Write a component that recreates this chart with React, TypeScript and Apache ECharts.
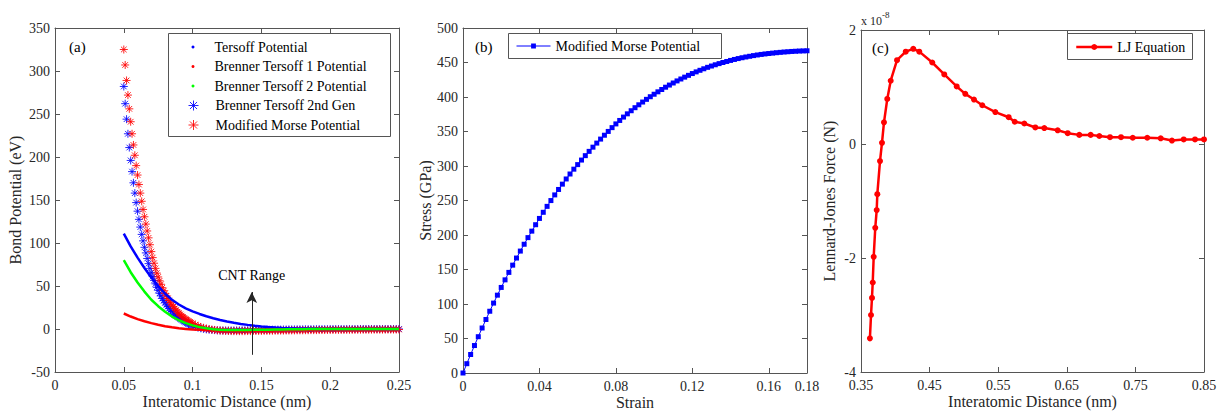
import React, { useEffect, useRef } from "react";
import * as echarts from "echarts";

// ---------- Panel (a): bond potential ----------
const lineX = [0.05, 0.055, 0.06, 0.065, 0.07, 0.075, 0.08, 0.085, 0.09, 0.095, 0.1, 0.105, 0.11, 0.115, 0.12, 0.125, 0.13, 0.135, 0.14, 0.145, 0.15, 0.155, 0.16, 0.165, 0.17, 0.175, 0.18, 0.185, 0.19, 0.195, 0.2, 0.205, 0.21, 0.215, 0.22, 0.225, 0.23, 0.235, 0.24, 0.245, 0.25];
const tersoffY = [111, 96, 83, 71, 60, 50, 41, 34, 28.5, 24, 20.5, 17.5, 14.8, 12.5, 10.5, 8.7, 7.2, 5.9, 4.8, 3.8, 3.0, 2.3, 1.7, 1.2, 0.8, 0.5, 0.3, 0.2, 0.1, 0, 0, 0, 0, 0, 0, 0, 0, 0, 0, 0, 0];
const brenner1Y = [18, 14.5, 11.5, 9, 6.8, 4.9, 3.3, 2.0, 0.9, 0.1, -0.5, -0.9, -1.2, -1.4, -1.5, -1.5, -1.5, -1.4, -1.3, -1.2, -1.1, -1.0, -0.8, -0.7, -0.6, -0.5, -0.4, -0.3, -0.2, -0.1, 0, 0, 0, 0, 0, 0, 0, 0, 0, 0, 0];
const brenner2Y = [80, 66, 54, 43.5, 34, 26.5, 20, 14.5, 10.2, 6.8, 4.2, 2.2, 0.8, -0.2, -0.8, -1.1, -1.2, -1.2, -1.1, -1.0, -0.9, -0.8, -0.6, -0.5, -0.4, -0.3, -0.2, -0.1, -0.1, 0, 0, 0, 0, 0, 0, 0, 0, 0, 0, 0, 0];

const starX = [
  0.05, 0.051, 0.052, 0.053, 0.054, 0.055, 0.056, 0.057, 0.058, 0.059,
  0.06, 0.061, 0.062, 0.063, 0.064, 0.065, 0.066, 0.067, 0.068, 0.069,
  0.07, 0.071, 0.072, 0.073, 0.074, 0.075, 0.076, 0.077, 0.078, 0.079,
  0.08, 0.081, 0.082, 0.083, 0.084, 0.085, 0.086, 0.087, 0.088, 0.089,
  0.09, 0.091, 0.092, 0.093, 0.094, 0.095, 0.096, 0.097, 0.098, 0.099, 0.1,
  0.102, 0.104, 0.106, 0.108, 0.11, 0.112, 0.114, 0.116, 0.118, 0.12,
  0.122, 0.124, 0.126, 0.128, 0.13, 0.132, 0.134, 0.136, 0.138, 0.14,
  0.142, 0.144, 0.146, 0.148, 0.15, 0.152, 0.154, 0.156, 0.158, 0.16,
  0.162, 0.164, 0.166, 0.168, 0.17, 0.172, 0.174, 0.176, 0.178, 0.18,
  0.182, 0.184, 0.186, 0.188, 0.19, 0.192, 0.194, 0.196, 0.198, 0.2,
  0.202, 0.204, 0.206, 0.208, 0.21, 0.212, 0.214, 0.216, 0.218, 0.22,
  0.222, 0.224, 0.226, 0.228, 0.23, 0.232, 0.234, 0.236, 0.238, 0.24,
  0.242, 0.244, 0.246, 0.248, 0.25,
];
const gen2Y = [
  282, 262, 244, 227, 211, 196, 183, 170, 158, 147,
  137, 127.5, 118.5, 110, 102.5, 95, 88.5, 82, 76, 70.5,
  65.5, 61, 56.5, 52.5, 48.5, 45, 41.5, 38.5, 35.5, 33,
  30.5, 28, 26, 24, 22, 20.3, 18.6, 17, 15.6, 14.2,
  13, 11.8, 10.7, 9.6, 8.6, 7.6, 6.7, 5.9, 5.1, 4.4, 3.7,
  2.6, 1.6, 0.8, 0.1, -0.4, -0.8, -1.1, -1.3, -1.5, -1.6,
  -1.7, -1.7, -1.7, -1.7, -1.7, -1.6, -1.6, -1.5, -1.5, -1.4,
  -1.3, -1.3, -1.2, -1.1, -1.1, -1.0, -0.9, -0.9, -0.8, -0.8,
  -0.7, -0.7, -0.6, -0.6, -0.5, -0.5, -0.5, -0.4, -0.4, -0.4,
  -0.3, -0.3, -0.3, -0.3, -0.2, -0.2, -0.2, -0.2, -0.2, -0.1,
  -0.1, -0.1, -0.1, -0.1, -0.1, -0.1, -0.1, -0.1, -0.1, -0.1,
  0, 0, 0, 0, 0, 0, 0, 0, 0, 0,
  0, 0, 0, 0, 0,
];
const morseY = [
  325, 307, 289, 272, 256, 241, 227, 214, 202, 190,
  179, 168, 158, 148.5, 139, 130.5, 122, 114, 106, 98,
  90, 83, 76.5, 70.5, 65, 60.5, 56, 52, 48, 44.5,
  41.5, 38.5, 35.5, 33, 30.5, 28, 26, 24, 22, 20,
  18.5, 17, 15.5, 14, 12.8, 11.5, 10.4, 9.3, 8.3, 7.3, 6.4,
  5.0, 3.6, 2.4, 1.4, 0.6, -0.1, -0.7, -1.1, -1.5, -1.8,
  -2.0, -2.2, -2.3, -2.4, -2.5, -2.5, -2.5, -2.5, -2.5, -2.4,
  -2.4, -2.3, -2.3, -2.2, -2.2, -2.1, -2.1, -2.0, -2.0, -1.9,
  -1.9, -1.8, -1.8, -1.7, -1.7, -1.6, -1.6, -1.5, -1.5, -1.5,
  -1.4, -1.4, -1.3, -1.3, -1.3, -1.2, -1.2, -1.2, -1.1, -1.1,
  -1.1, -1.0, -1.0, -1.0, -1.0, -0.9, -0.9, -0.9, -0.9, -0.8,
  -0.8, -0.8, -0.8, -0.8, -0.7, -0.7, -0.7, -0.7, -0.7, -0.7,
  -0.6, -0.6, -0.6, -0.6, -0.6,
];
const cntRange = { x: 0.143, from: -30, to: 43 };

// ---------- Panel (b): stress-strain ----------
const strainX = [
  0, 0.002, 0.004, 0.006, 0.008, 0.01, 0.012, 0.014, 0.016, 0.018,
  0.02, 0.022, 0.024, 0.026, 0.028, 0.03, 0.032, 0.034, 0.036, 0.038,
  0.04, 0.042, 0.044, 0.046, 0.048, 0.05, 0.052, 0.054, 0.056, 0.058,
  0.06, 0.062, 0.064, 0.066, 0.068, 0.07, 0.072, 0.074, 0.076, 0.078,
  0.08, 0.082, 0.084, 0.086, 0.088, 0.09, 0.092, 0.094, 0.096, 0.098,
  0.1, 0.102, 0.104, 0.106, 0.108, 0.11, 0.112, 0.114, 0.116, 0.118,
  0.12, 0.122, 0.124, 0.126, 0.128, 0.13, 0.132, 0.134, 0.136, 0.138,
  0.14, 0.142, 0.144, 0.146, 0.148, 0.15, 0.152, 0.154, 0.156, 0.158,
  0.16, 0.162, 0.164, 0.166, 0.168, 0.17, 0.172, 0.174, 0.176, 0.178, 0.18,
];
const stressY = [
  0, 13.5, 26.8, 39.8, 52.6, 65.2, 77.5, 89.5, 101.3, 112.8,
  124.0, 135.0, 145.8, 156.3, 166.6, 176.7, 186.6, 196.2, 205.6, 214.9,
  224.0, 232.9, 241.5, 249.9, 258.1, 266.0, 273.7, 281.2, 288.4, 295.4,
  302.0, 308.6, 315.0, 321.2, 327.3, 333.2, 339.0, 344.6, 350.1, 355.6,
  361.0, 366.0, 370.9, 375.6, 380.1, 384.5, 388.7, 392.7, 396.6, 400.4,
  404.0, 407.5, 410.9, 414.2, 417.3, 420.3, 423.3, 426.1, 428.8, 431.4,
  434.0, 436.4, 438.7, 440.9, 443.0, 444.9, 446.7, 448.4, 450.0, 451.5,
  453.0, 454.4, 455.7, 456.9, 458.0, 459.0, 460.0, 460.9, 461.7, 462.4,
  463.0, 463.6, 464.2, 464.7, 465.2, 465.6, 466.0, 466.3, 466.6, 466.8, 467.0,
];

// ---------- Panel (c): Lennard-Jones force (units of 1e-8 N) ----------
const ljX = [0.363, 0.3646, 0.366, 0.3671, 0.3685, 0.3708, 0.3729, 0.3738, 0.3777, 0.3806, 0.3835, 0.3883, 0.3933, 0.4025, 0.4152, 0.4262, 0.435, 0.4539, 0.4714, 0.4895, 0.502, 0.5147, 0.5268, 0.5458, 0.5653, 0.5741, 0.5881, 0.6041, 0.6172, 0.6367, 0.6513, 0.6682, 0.6848, 0.6974, 0.713, 0.729, 0.7461, 0.7673, 0.7869, 0.8033, 0.8204, 0.8369, 0.85];
const ljY = [-3.41, -3.0, -2.7, -2.43, -1.98, -1.47, -1.16, -0.88, -0.3, 0.02, 0.38, 0.79, 1.11, 1.47, 1.62, 1.67, 1.62, 1.43, 1.22, 1.01, 0.88, 0.78, 0.68, 0.56, 0.47, 0.39, 0.36, 0.29, 0.28, 0.24, 0.19, 0.16, 0.16, 0.14, 0.12, 0.12, 0.11, 0.11, 0.1, 0.06, 0.08, 0.08, 0.08];

const FONT = "'Liberation Serif', 'Times New Roman', serif";
const AXIS_COLOR = "#555555";
const TEXT_COLOR = "#262626";
const BLUE = "#0000ff";
const RED = "#ff0000";
const GREEN = "#00ff00";
const STAR = "path://M0,-10L0,10M-10,0L10,0M-7.07,-7.07L7.07,7.07M-7.07,7.07L7.07,-7.07";

const zip = (xs: number[], ys: number[]) => xs.map((x, i) => [x, ys[i]]);

function xAxisPair(gridIndex: number, min: number, max: number, interval: number, name: string) {
  const common = {
    type: "value",
    gridIndex,
    min,
    max,
    interval,
    axisLine: { show: true, onZero: false, lineStyle: { color: AXIS_COLOR, width: 1 } },
    axisTick: { show: true, inside: true, length: 5, lineStyle: { color: AXIS_COLOR } },
    splitLine: { show: false },
  };
  return [
    {
      ...common,
      position: "bottom",
      name,
      nameLocation: "middle",
      nameGap: 21,
      nameMoveOverlap: false,
      nameTextStyle: { fontFamily: FONT, fontSize: 16, color: TEXT_COLOR },
      axisLabel: { show: true, margin: 6, fontFamily: FONT, fontSize: 14, color: TEXT_COLOR },
    },
    { ...common, position: "top", axisLabel: { show: false } },
  ];
}

function yAxisPair(gridIndex: number, min: number, max: number, interval: number, name: string, nameGap: number) {
  const common = {
    type: "value",
    gridIndex,
    min,
    max,
    interval,
    axisLine: { show: true, onZero: false, lineStyle: { color: AXIS_COLOR, width: 1 } },
    axisTick: { show: true, inside: true, length: 5, lineStyle: { color: AXIS_COLOR } },
    splitLine: { show: false },
  };
  return [
    {
      ...common,
      position: "left",
      name,
      nameLocation: "middle",
      nameGap,
      nameMoveOverlap: false,
      nameTextStyle: { fontFamily: FONT, fontSize: 16, color: TEXT_COLOR },
      axisLabel: { show: true, margin: 5, fontFamily: FONT, fontSize: 14, color: TEXT_COLOR },
    },
    { ...common, position: "right", axisLabel: { show: false } },
  ];
}

const legendText = { fontFamily: FONT, fontSize: 14, color: "#000", lineHeight: 16 };

export default function App() {
  const ref = useRef<HTMLDivElement>(null);

  useEffect(() => {
    document.body.style.margin = "0";
    const chart = echarts.init(ref.current!, undefined, { renderer: "svg" });
    const option: any = {
      animation: false,
      backgroundColor: "#ffffff",
      grid: [
        { left: 55, top: 28, width: 344, height: 344, outerBoundsMode: "none" },
        { left: 463, top: 28, width: 344, height: 345, outerBoundsMode: "none" },
        { left: 861, top: 30, width: 343, height: 342, outerBoundsMode: "none" },
      ],
      xAxis: [
        ...xAxisPair(0, 0, 0.25, 0.05, "Interatomic Distance (nm)"),
        ...xAxisPair(1, 0, 0.18, 0.04, "Strain"),
        ...xAxisPair(2, 0.35, 0.85, 0.1, "Interatomic Distance (nm)"),
      ],
      yAxis: [
        ...yAxisPair(0, -50, 350, 50, "Bond Potential (eV)", 32),
        ...yAxisPair(1, 0, 500, 50, "Stress (GPa)", 30),
        ...yAxisPair(2, -4, 2, 2, "Lennard-Jones Force (N)", 24),
      ],
      legend: [
        {
          orient: "vertical",
          left: 191.5,
          top: 39,
          padding: 0,
          itemGap: 3.5,
          itemWidth: 3,
          itemHeight: 3,
          icon: "circle",
          selectedMode: false,
          textStyle: { ...legendText, padding: [0, 0, 0, 15] },
          data: [
            { name: "Tersoff Potential", itemStyle: { color: BLUE, borderWidth: 0 } },
            { name: "Brenner Tersoff 1 Potential", itemStyle: { color: RED, borderWidth: 0 } },
            { name: "Brenner Tersoff 2 Potential", itemStyle: { color: GREEN, borderWidth: 0 } },
          ],
          z: 6,
        },
        {
          orient: "vertical",
          left: 188,
          top: 97.5,
          padding: 0,
          itemGap: 3.5,
          itemWidth: 10,
          itemHeight: 10,
          selectedMode: false,
          textStyle: { ...legendText, padding: [0, 0, 0, 12] },
          data: [
            { name: "Brenner Tersoff 2nd Gen", icon: STAR, itemStyle: { color: BLUE, borderColor: BLUE, borderWidth: 1 } },
            { name: "Modified Morse Potential", icon: STAR, itemStyle: { color: RED, borderColor: RED, borderWidth: 1 } },
          ],
          z: 6,
        },
        {
          left: 516,
          top: 38,
          padding: 0,
          itemWidth: 34,
          itemHeight: 6,
          selectedMode: false,
          textStyle: legendText,
          lineStyle: { width: 1 },
          formatter: () => "Modified Morse Potential",
          data: ["Modified Morse Potential (b)"],
          z: 6,
        },
        {
          left: 1075,
          top: 39,
          padding: 0,
          itemWidth: 36,
          itemHeight: 7.5,
          selectedMode: false,
          textStyle: legendText,
          lineStyle: { width: 2.5 },
          data: ["LJ Equation"],
          z: 6,
        },
      ],
      graphic: [
        { type: "rect", z: 3, shape: { x: 168.5, y: 33.5, width: 222, height: 103 }, style: { fill: "#fff", stroke: AXIS_COLOR, lineWidth: 1 } },
        { type: "rect", z: 3, shape: { x: 508.5, y: 33.5, width: 213, height: 25 }, style: { fill: "#fff", stroke: AXIS_COLOR, lineWidth: 1 } },
        { type: "rect", z: 3, shape: { x: 1067.5, y: 33.5, width: 125, height: 26 }, style: { fill: "#fff", stroke: AXIS_COLOR, lineWidth: 1 } },
        { type: "text", z: 7, x: 69, y: 47, style: { text: "(a)", fontFamily: FONT, fontSize: 15, fill: "#000", verticalAlign: "middle" } },
        { type: "text", z: 7, x: 475, y: 47, style: { text: "(b)", fontFamily: FONT, fontSize: 15, fill: "#000", verticalAlign: "middle" } },
        { type: "text", z: 7, x: 872, y: 48, style: { text: "(c)", fontFamily: FONT, fontSize: 15, fill: "#000", verticalAlign: "middle" } },
        { type: "text", z: 7, x: 861, y: 21, style: { text: "x 10", fontFamily: FONT, fontSize: 12, fill: TEXT_COLOR, verticalAlign: "middle" } },
        { type: "text", z: 7, x: 882, y: 15, style: { text: "-8", fontFamily: FONT, fontSize: 9, fill: TEXT_COLOR, verticalAlign: "middle" } },
      ],
      series: [
        {
          name: "Tersoff Potential",
          type: "line",
          xAxisIndex: 0,
          yAxisIndex: 0,
          data: zip(lineX, tersoffY),
          showSymbol: false,
          symbol: "circle",
          lineStyle: { color: BLUE, width: 2.5 },
          itemStyle: { color: BLUE },
        },
        {
          name: "Brenner Tersoff 1 Potential",
          type: "line",
          xAxisIndex: 0,
          yAxisIndex: 0,
          data: zip(lineX, brenner1Y),
          showSymbol: false,
          symbol: "circle",
          lineStyle: { color: RED, width: 2.5 },
          itemStyle: { color: RED },
        },
        {
          name: "Brenner Tersoff 2 Potential",
          type: "line",
          xAxisIndex: 0,
          yAxisIndex: 0,
          data: zip(lineX, brenner2Y),
          showSymbol: false,
          symbol: "circle",
          lineStyle: { color: GREEN, width: 2.5 },
          itemStyle: { color: GREEN },
        },
        {
          name: "Brenner Tersoff 2nd Gen",
          type: "scatter",
          xAxisIndex: 0,
          yAxisIndex: 0,
          data: zip(starX, gen2Y),
          symbol: STAR,
          symbolSize: 8,
          itemStyle: { color: BLUE, borderColor: BLUE, borderWidth: 1, opacity: 0.85 },
        },
        {
          name: "Modified Morse Potential",
          type: "scatter",
          xAxisIndex: 0,
          yAxisIndex: 0,
          data: zip(starX, morseY),
          symbol: STAR,
          symbolSize: 8,
          itemStyle: { color: RED, borderColor: RED, borderWidth: 1, opacity: 0.85 },
          markLine: {
            silent: true,
            animation: false,
            symbol: ["none", "arrow"],
            symbolSize: [8, 11],
            lineStyle: { color: "#262626", width: 1, type: "solid" },
            label: { show: true, position: "end", distance: 10, formatter: "CNT Range", fontFamily: FONT, fontSize: 14, color: "#000" },
            data: [[{ coord: [cntRange.x, cntRange.from] }, { coord: [cntRange.x, cntRange.to] }]],
          },
        },
        {
          name: "Modified Morse Potential (b)",
          type: "line",
          xAxisIndex: 2,
          yAxisIndex: 2,
          data: zip(strainX, stressY),
          symbol: "rect",
          symbolSize: 5,
          showSymbol: true,
          lineStyle: { color: BLUE, width: 1 },
          itemStyle: { color: BLUE },
        },
        {
          name: "LJ Equation",
          type: "line",
          xAxisIndex: 4,
          yAxisIndex: 4,
          data: zip(ljX, ljY),
          symbol: "circle",
          symbolSize: 6,
          showSymbol: true,
          lineStyle: { color: RED, width: 2.5 },
          itemStyle: { color: RED },
        },
      ],
    };
    chart.setOption(option);
    return () => chart.dispose();
  }, []);

  return (
    <div
      ref={ref}
      style={{ position: "absolute", left: 0, top: 0, width: 1219, height: 411, background: "#fff" }}
    />
  );
}
